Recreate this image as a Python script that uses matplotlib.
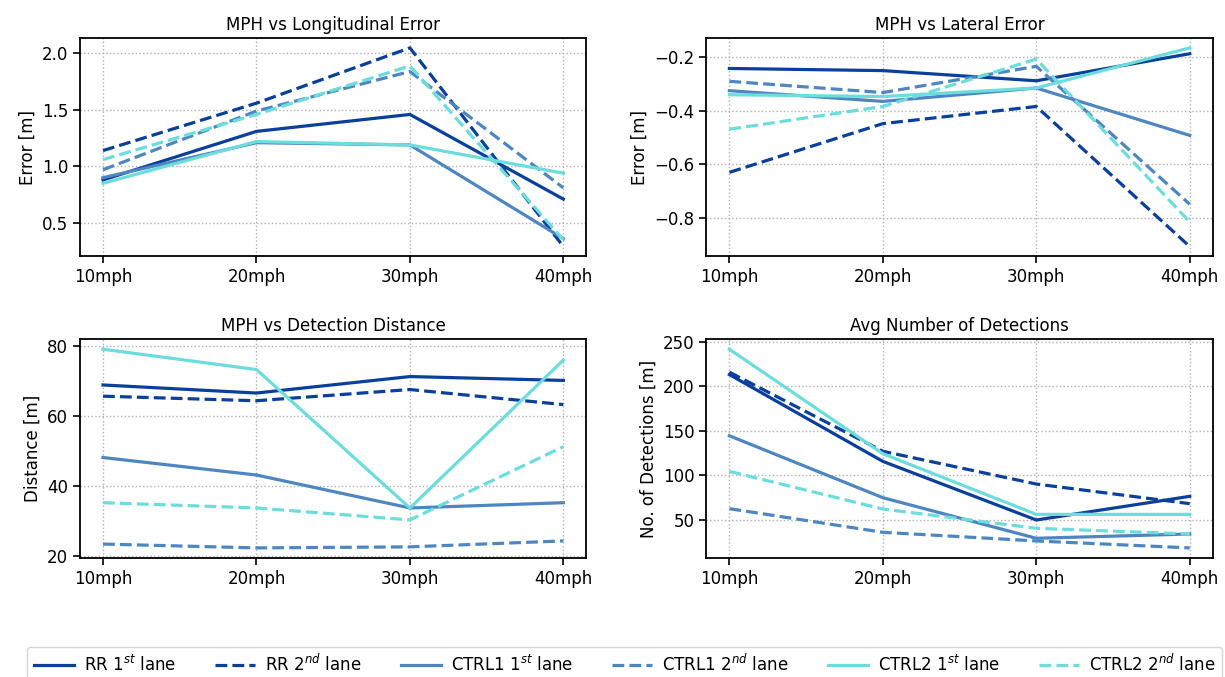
import numpy as np
import matplotlib
matplotlib.use('Agg')
import matplotlib.pyplot as plt
from matplotlib.lines import Line2D

# speeds on the x axis
speeds = ['10mph', '20mph', '30mph', '40mph']

# longitudinal error [m]
lon_rr1 = [0.88, 1.31, 1.46, 0.71]
lon_rr2 = [1.14, 1.56, 2.05, 0.29]
lon_c11 = [0.90, 1.21, 1.19, 0.36]
lon_c12 = [0.97, 1.49, 1.84, 0.81]
lon_c21 = [0.85, 1.22, 1.19, 0.94]
lon_c22 = [1.06, 1.46, 1.89, 0.35]

# lateral error [m]
lat_rr1 = [-0.243, -0.251, -0.289, -0.188]
lat_rr2 = [-0.631, -0.449, -0.385, -0.908]
lat_c11 = [-0.326, -0.366, -0.316, -0.493]
lat_c12 = [-0.291, -0.333, -0.235, -0.750]
lat_c21 = [-0.341, -0.348, -0.316, -0.166]
lat_c22 = [-0.470, -0.385, -0.208, -0.816]

# detection distance [m]
dist_rr1 = [68.9, 66.6, 71.3, 70.2]
dist_rr2 = [65.7, 64.4, 67.6, 63.3]
dist_c11 = [48.2, 43.2, 33.8, 35.3]
dist_c12 = [23.5, 22.4, 22.7, 24.4]
dist_c21 = [79.1, 73.3, 33.8, 76.0]
dist_c22 = [35.3, 33.8, 30.4, 51.3]

# average number of detections
det_rr1 = [213, 115.7, 50, 76.5]
det_rr2 = [215.7, 127, 90.3, 68.3]
det_c11 = [144.4, 75, 29.5, 34.3]
det_c12 = [62.7, 36.2, 26.5, 18.7]
det_c21 = [241.4, 124.3, 56.3, 56.3]
det_c22 = [104.5, 62.3, 40.7, 34.3]

labels = [r'RR 1$^{st}$ lane', r'RR 2$^{nd}$ lane',
          r'CTRL1 1$^{st}$ lane', r'CTRL1 2$^{nd}$ lane',
          r'CTRL2 1$^{st}$ lane', r'CTRL2 2$^{nd}$ lane']
colors = ['#0a3f9c', '#0a3f9c', '#4e86c2', '#4e86c2', '#6cdcdc', '#6cdcdc']
styles = ['-', '--', '-', '--', '-', '--']

panels = [
    ('MPH vs Longitudinal Error', 'Error [m]',
     [lon_rr1, lon_rr2, lon_c11, lon_c12, lon_c21, lon_c22]),
    ('MPH vs Lateral Error', 'Error [m]',
     [lat_rr1, lat_rr2, lat_c11, lat_c12, lat_c21, lat_c22]),
    ('MPH vs Detection Distance', 'Distance [m]',
     [dist_rr1, dist_rr2, dist_c11, dist_c12, dist_c21, dist_c22]),
    ('Avg Number of Detections', 'No. of Detections [m]',
     [det_rr1, det_rr2, det_c11, det_c12, det_c21, det_c22]),
]

fs = 12
fig, axes = plt.subplots(2, 2, figsize=(12.25, 6.77), dpi=100)
fig.subplots_adjust(left=0.0653, right=0.990, top=0.944, bottom=0.176,
                    wspace=0.237, hspace=0.379)

x = np.arange(len(speeds))
for ax, (title, ylabel, series) in zip(axes.flat, panels):
    for ys, c, ls in zip(series, colors, styles):
        ax.plot(x, ys, color=c, linestyle=ls, linewidth=2.3)
    ax.set_title(title, fontsize=fs)
    ax.set_ylabel(ylabel, fontsize=fs)
    ax.set_xticks(x)
    ax.set_xticklabels(speeds)
    ax.tick_params(labelsize=fs, length=5, width=1.2)
    ax.grid(True, linestyle=':', color='#b0b0b0', linewidth=1.0)
    for sp in ax.spines.values():
        sp.set_linewidth(1.3)

handles = [Line2D([0], [0], color=c, linestyle=ls, linewidth=2.3)
           for c, ls in zip(colors, styles)]
fig.legend(handles, labels, loc='upper left', bbox_to_anchor=(0.022, 0.044),
           borderaxespad=0, ncol=6, fontsize=12, handlelength=2.4,
           handletextpad=0.6, columnspacing=2.35)

fig.savefig('out.png', dpi=100)
